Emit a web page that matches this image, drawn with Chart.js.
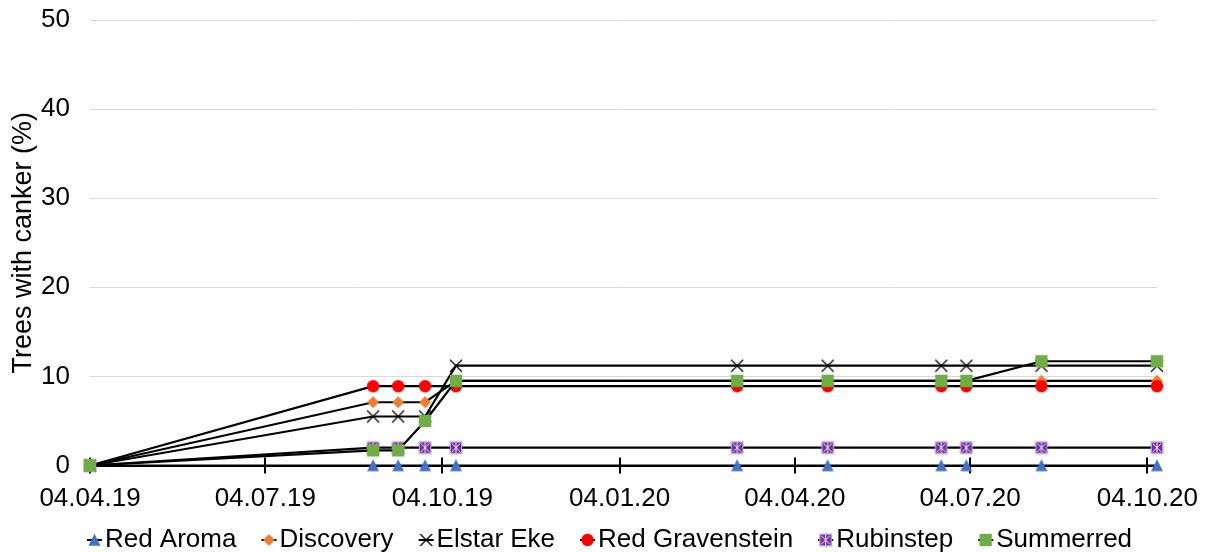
<!DOCTYPE html>
<html>
<head>
<meta charset="utf-8">
<script src="https://cdn.jsdelivr.net/npm/chart.js@4.4.1/dist/chart.umd.min.js"></script>
<style>
html,body{margin:0;padding:0;background:#fff;}
#wrap{width:1207px;height:552px;position:relative;}
canvas{display:block;}
</style>
</head>
<body>
<div id="wrap"><canvas id="c" width="1207" height="552"></canvas></div>
<script>
// ---- data ----
const dates = ['04.04.19','29.08.19','11.09.19','25.09.19','11.10.19','05.03.20','21.04.20','19.06.20','02.07.20','10.08.20','09.10.20'];
const xTickLabels = ['04.04.19','04.07.19','04.10.19','04.01.20','04.04.20','04.07.20','04.10.20'];
const yTickValues = [0, 10, 20, 30, 40, 50];
const seriesNames = ['Red Aroma','Discovery','Elstar Eke','Red Gravenstein','Rubinstep','Summerred'];
const redAroma       = [0, 0,   0,   0,   0,    0,    0,    0,    0,    0,    0];
const discovery      = [0, 7.1, 7.1, 7.1, 9.5,  9.5,  9.5,  9.5,  9.5,  9.5,  9.5];
const elstarEke      = [0, 5.5, 5.5, 5.5, 11.2, 11.2, 11.2, 11.2, 11.2, 11.2, 11.2];
const redGravenstein = [0, 8.9, 8.9, 8.9, 8.9,  8.9,  8.9,  8.9,  8.9,  8.9,  8.9];
const rubinstep      = [0, 2.0, 2.0, 2.0, 2.0,  2.0,  2.0,  2.0,  2.0,  2.0,  2.0];
const summerred      = [0, 1.7, 1.7, 5.0, 9.5,  9.5,  9.5,  9.5,  9.5,  11.7, 11.7];
const seriesValues = [redAroma, discovery, elstarEke, redGravenstein, rubinstep, summerred];

// ---- helpers ----
function dayNum(s){ const p = s.split('.').map(Number); return Date.UTC(2000 + p[2], p[1] - 1, p[0]) / 86400000; }
const day0 = dayNum(dates[0]);
const xDays = dates.map(s => dayNum(s) - day0);
const xTickDays = xTickLabels.map(s => dayNum(s) - day0);

const FONT = "'Liberation Sans', Arial, sans-serif";
Chart.defaults.font.family = FONT;
Chart.defaults.font.size = 26;
Chart.defaults.color = '#000';

const markerKinds = ['tri','dia','x','circ','star','sq'];
function drawMarker(ctx, kind, cx, cy){
  ctx.save();
  if (kind === 'tri'){
    ctx.fillStyle = '#4472C4';
    ctx.beginPath(); ctx.moveTo(cx, cy - 6.3); ctx.lineTo(cx + 6, cy + 5.8); ctx.lineTo(cx - 6, cy + 5.8); ctx.closePath(); ctx.fill();
  } else if (kind === 'dia'){
    ctx.fillStyle = '#ED7D31';
    ctx.beginPath(); ctx.moveTo(cx, cy - 6.1); ctx.lineTo(cx + 6, cy); ctx.lineTo(cx, cy + 6.1); ctx.lineTo(cx - 6, cy); ctx.closePath(); ctx.fill();
  } else if (kind === 'x'){
    ctx.strokeStyle = '#000'; ctx.lineWidth = 1.3;
    ctx.beginPath(); ctx.moveTo(cx - 6, cy - 6); ctx.lineTo(cx + 6, cy + 6); ctx.moveTo(cx + 6, cy - 6); ctx.lineTo(cx - 6, cy + 6); ctx.stroke();
  } else if (kind === 'circ'){
    ctx.fillStyle = '#FF0000';
    ctx.beginPath(); ctx.arc(cx, cy, 6.2, 0, Math.PI * 2); ctx.fill();
  } else if (kind === 'sq'){
    ctx.fillStyle = '#70AD47';
    ctx.fillRect(cx - 6.2, cy - 6.2, 12.4, 12.4);
  } else if (kind === 'star'){
    ctx.fillStyle = '#7030A0';
    ctx.fillRect(cx - 6.2, cy - 6.2, 12.4, 12.4);
    ctx.strokeStyle = '#c9b5e3'; ctx.lineWidth = 1;
    ctx.strokeRect(cx - 5.7, cy - 5.7, 11.4, 11.4);
    ctx.strokeStyle = 'rgba(255,255,255,0.9)'; ctx.lineWidth = 1;
    ctx.beginPath();
    ctx.moveTo(cx - 4.3, cy - 4.3); ctx.lineTo(cx + 4.3, cy + 4.3);
    ctx.moveTo(cx + 4.3, cy - 4.3); ctx.lineTo(cx - 4.3, cy + 4.3);
    ctx.moveTo(cx, cy - 5); ctx.lineTo(cx, cy + 5);
    ctx.stroke();
  }
  ctx.restore();
}
function makeMarker(kind){
  const c = document.createElement('canvas'); c.width = 16; c.height = 16;
  drawMarker(c.getContext('2d'), kind, 8, 8);
  return c;
}
function makeLegendMarker(kind){
  const c = document.createElement('canvas'); c.width = 35; c.height = 16;
  const ctx = c.getContext('2d');
  ctx.strokeStyle = '#000'; ctx.lineWidth = 2;
  ctx.beginPath(); ctx.moveTo(15, 8); ctx.lineTo(30, 8); ctx.stroke();
  drawMarker(ctx, kind, 22.5, 8);
  return c;
}
const pointMarkers = markerKinds.map(makeMarker);
const legendMarkers = markerKinds.map(makeLegendMarker);

const datasets = seriesNames.map((name, i) => ({
  label: name,
  data: xDays.map((x, j) => ({x: x, y: seriesValues[i][j]})),
  borderColor: '#000',
  backgroundColor: '#000',
  borderWidth: 2.2,
  tension: 0,
  fill: false,
  pointStyle: pointMarkers[i],
  pointRadius: 6,
  pointHoverRadius: 6,
  clip: false,
  order: seriesNames.length - i
}));

const excelLike = {
  id: 'excelLike',
  afterLayout(chart){
    const lg = chart.legend;
    if (lg) {
      const h = lg.bottom - lg.top;
      lg.left = 42; lg.right = 1177;
      lg.top = chart.chartArea.bottom + 36.5;
      lg.bottom = lg.top + h;
    }
  },
  beforeDatasetsDraw(chart){
    const ctx = chart.ctx, sx = chart.scales.x, sy = chart.scales.y;
    const y0 = sy.getPixelForValue(0);
    ctx.save();
    ctx.strokeStyle = '#000'; ctx.lineWidth = 2;
    sx.ticks.forEach(t => {
      const px = Math.round(sx.getPixelForValue(t.value));
      ctx.beginPath(); ctx.moveTo(px, y0 - 8); ctx.lineTo(px, y0 + 8); ctx.stroke();
    });
    ctx.restore();
  }
};

new Chart(document.getElementById('c'), {
  type: 'line',
  data: { datasets: datasets },
  options: {
    responsive: false,
    animation: false,
    events: [],
    layout: { padding: { top: 20, right: 50, bottom: -25, left: 0 } },
    scales: {
      x: {
        type: 'linear',
        min: 0,
        max: xDays[xDays.length - 1],
        afterBuildTicks: s => { s.ticks = xTickDays.map(v => ({value: v})); },
        ticks: {
          autoSkip: false, maxRotation: 0, minRotation: 0, padding: 18, color: '#000',
          callback: v => { const i = xTickDays.indexOf(v); return i >= 0 ? xTickLabels[i] : ''; }
        },
        grid: { display: false, drawTicks: false },
        border: { display: true, color: '#000', width: 2 },
        afterFit: s => { s.height = 50.5; s.paddingLeft = 0; s.paddingRight = 0; }
      },
      y: {
        min: yTickValues[0],
        max: yTickValues[yTickValues.length - 1],
        afterBuildTicks: s => { s.ticks = yTickValues.map(v => ({value: v})); },
        ticks: { padding: 20, color: '#000' },
        grid: { color: c => (c.tick && c.tick.value === 0) ? 'rgba(0,0,0,0)' : '#d9d9d9', lineWidth: 1, drawTicks: false },
        border: { display: false },
        title: { display: true, text: 'Trees with canker (%)', color: '#000', font: { size: 27 }, padding: { top: 7, bottom: 4 } },
        afterFit: s => { s.width = 90; s.paddingTop = 0; s.paddingBottom = 0; }
      }
    },
    plugins: {
      tooltip: { enabled: false },
      legend: {
        position: 'bottom',
        labels: {
          usePointStyle: true,
          pointStyleWidth: 5,
          padding: 25,
          color: '#000',
          sort: (a, b) => a.datasetIndex - b.datasetIndex,
          generateLabels: chart => {
            const items = Chart.defaults.plugins.legend.labels.generateLabels(chart);
            items.forEach(it => { it.pointStyle = legendMarkers[it.datasetIndex]; });
            return items;
          }
        }
      }
    }
  },
  plugins: [excelLike]
});
</script>
</body>
</html>
